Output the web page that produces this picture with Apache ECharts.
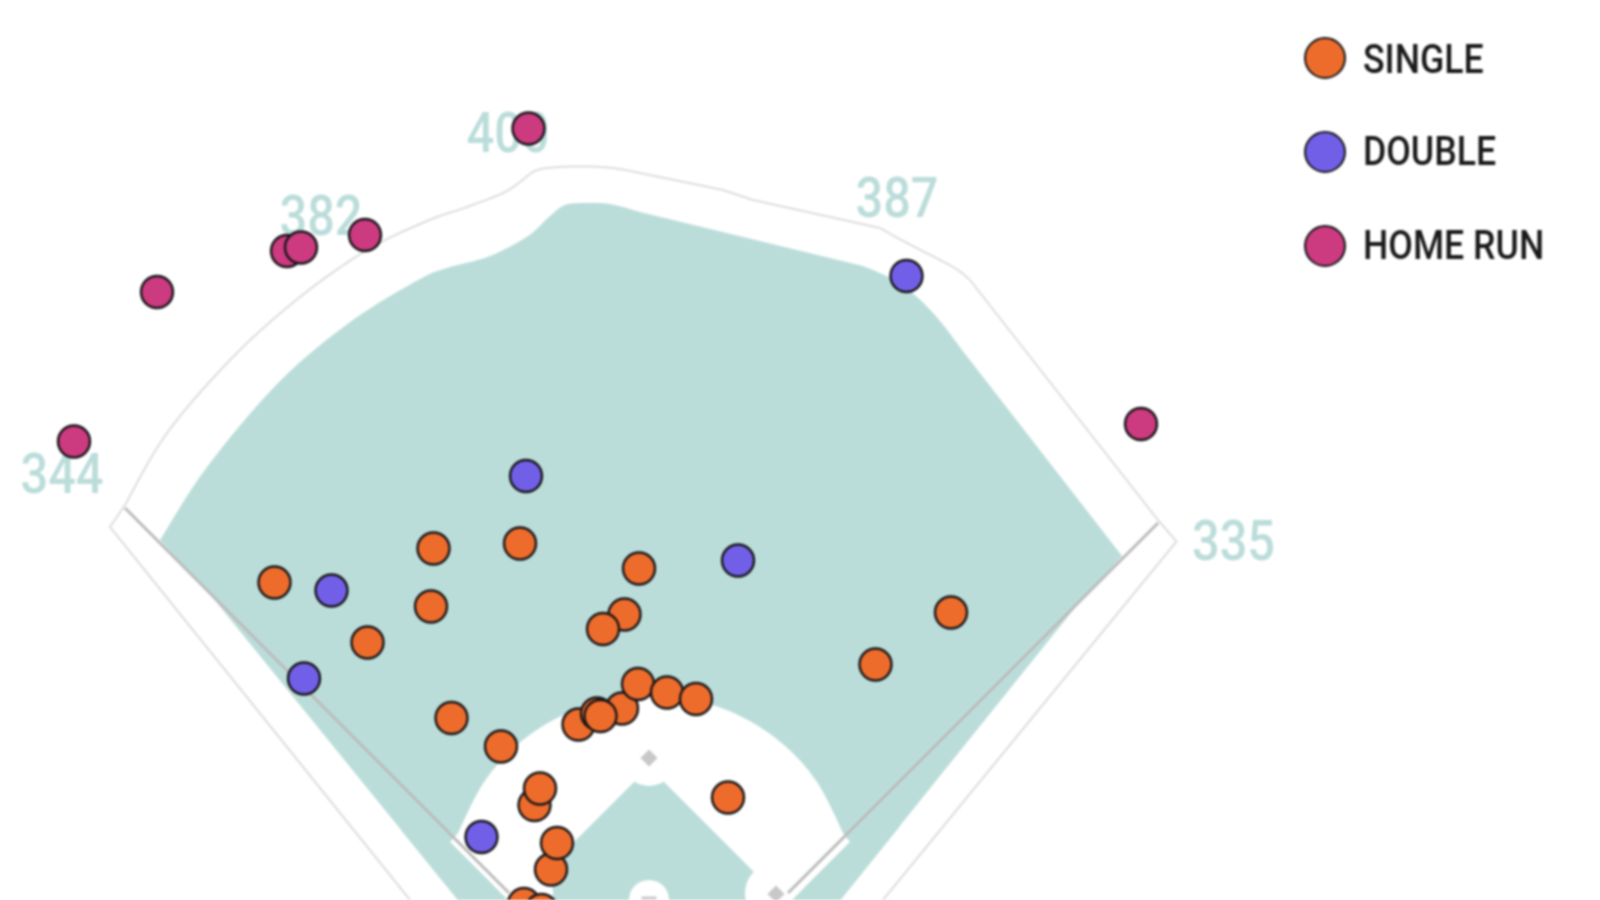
<!DOCTYPE html>
<html>
<head>
<meta charset="utf-8">
<style>html,body{margin:0;padding:0;background:#fff}#c{width:1600px;height:900px;overflow:hidden;filter:blur(0.8px)}</style>
<script src="https://cdn.jsdelivr.net/npm/echarts@6/dist/echarts.min.js"></script>
</head>
<body>
<div id="c"></div>
<script>
// Batted-ball locations, in field coordinates
const singles = [[274.5,582.5],[433.5,548.5],[520,543.5],[431,606.5],[367.5,642.5],[451.5,718],[501,746.5],
  [639,568.5],[624.5,614.5],[603,629],[951,612.5],[875.5,664.5],
  [551,869.5],[557,843],[534.5,805],[540,788.5],[728,797.5],
  [578.5,724.5],[622,708.5],[597,713.5],[600.5,716],[638,684],[667,692.5],[696,699],
  [524,904],[541.5,910]];
const doubles = [[526,476],[331.5,590.5],[304,678.5],[481.5,837],[738,560.5],[906.5,276]];
const homeRuns = [[528.5,128.5],[157,292],[287,251],[301,247.5],[365,235],[74,441.5],[1141,424]];

// Fence distance labels
const distanceLabels = ['344','382','400','387','335'];
const distancePositions = [[62,478.5],[321,221],[508,137.5],[897,203],[1233.5,546]];

// Legend
const legendLabels = ['SINGLE','DOUBLE','HOME RUN'];
const legendLabelPositions = [[1363,62.5],[1363,154.5],[1363,248.5]];

// Field outlines: curved runs are smoothed, straight runs are kept as they are
const grassArcLeft = [[160,540],[207,467],[280,381],[353,320],[420,279],[447,268],[490,256],[528,236],[550,216],[565,205],[585,203],[610,204],[640,212]];
const grassArcRight = [[863,266],[890,278],[917,297],[940,321],[962,350]];
const grassStraight = [[1122,556],[1078,604],[760,1000],[539,1000],[213,598]];
const dirtArc = [[458,833],[484,782],[520,742.5],[565,714],[615,698],[650.5,695],[686,698],[736,714],[781,742.5],[817,782],[843,833]];
const dirtStraight = [[850,842],[692,1000],[608,1000],[450,842]];
const infieldGrass = [[649,767],[882,1000],[416,1000]];
const rightBand = [[850,842],[692,1000],[760,1000],[900,826]];
const leftBand = [[450,842],[608,1000],[539,1000],[401,830]];
const leftFoulLine = [[125,508],[509,893]];
const rightFoulLine = [[1158,523],[788,893]];
const wallLeftStraight = [[410,900],[110,527],[125,505]];
const wallArc = [[125,505],[167,433],[233,357],[300,297],[367,250],[427,221],[467,207],[503,193],[520,182],[533,172],[547,168],[573,166.5],[600,167],[620,169],[640,173]];
const wallShoulder = [[880,228],[907,243],[953,267],[970,280]];
const wallRun = [[640,173],[723,190],[753,200],[880,228]];
const wallRightStraight = [[970,280],[1158,520],[1176.5,541.5],[883,900]];
const baseCutouts = [[649,758],[775,893],[523,893],[649,900]];
const cutoutSizes = [56,60,60,40];
const bases = [[649,758],[776,894]];
const rubber = [[649,898]];

const teal = '#BBDDDA', ink = '#161618', lineGrey = '#BCBCBC', wallGrey = '#DEDEDE';

function curve(points) {
  const out = [];
  for (let i = 0; i < points.length - 1; i++) {
    const a = points[Math.max(i - 1, 0)], b = points[i], c = points[i + 1], d = points[Math.min(i + 2, points.length - 1)];
    for (let k = 0; k < 8; k++) {
      const t = k / 8, t2 = t * t, t3 = t2 * t;
      out.push([0, 1].map(j => 0.5 * (2 * b[j] + (c[j] - a[j]) * t + (2 * a[j] - 5 * b[j] + 4 * c[j] - d[j]) * t2 + (3 * b[j] - a[j] - 3 * c[j] + d[j]) * t3)));
    }
  }
  out.push(points[points.length - 1]);
  return out;
}
function outline(points, closed, style, z) {
  return {
    type: 'custom', coordinateSystem: 'cartesian2d', data: points, silent: true, z: z, animation: false,
    encode: {x: 0, y: 1},
    renderItem(params, api) {
      if (params.dataIndex !== 0) return null;
      return {
        type: closed ? 'polygon' : 'polyline',
        shape: {points: points.map(p => api.coord(p))},
        style: style, silent: true
      };
    }
  };
}
function condensedText(texts, positions, o, z) {
  return {
    type: 'custom', coordinateSystem: 'cartesian2d', data: positions, silent: true, z: z, animation: false,
    encode: {x: 0, y: 1},
    renderItem(params, api) {
      const p = api.coord(positions[params.dataIndex]);
      return {
        type: 'text', x: p[0], y: p[1], scaleX: o.scaleX, silent: true,
        style: {text: texts[params.dataIndex], fontFamily: 'Roboto', fontWeight: o.weight, fontSize: o.size, fill: o.color, align: o.align, verticalAlign: 'middle'}
      };
    }
  };
}
function marks(name, data, color) {
  return {
    type: 'scatter', name: name, data: data, symbol: 'circle', symbolSize: 32, z: 5, clip: false,
    itemStyle: {color: color, borderColor: ink, borderWidth: 2.4, opacity: 1},
    animation: false, silent: true
  };
}

const chart = echarts.init(document.getElementById('c'), null, {renderer: 'canvas'});
chart.setOption({
  backgroundColor: '#fff',
  animation: false,
  grid: {left: 0, top: 0, right: 0, bottom: 0},
  xAxis: {type: 'value', min: 0, max: 1600, show: false},
  yAxis: {type: 'value', min: 0, max: 900, inverse: true, show: false},
  legend: {
    data: legendLabels, orient: 'vertical', left: 1304, top: 37, padding: 0,
    itemWidth: 40, itemHeight: 40, itemGap: 52, icon: 'circle', selectedMode: false,
    formatter: () => ' ', textStyle: {fontSize: 12}
  },
  series: [
    outline(curve(grassArcLeft).concat(curve(grassArcRight), grassStraight), true, {fill: teal}, 1),
    outline(curve(dirtArc).concat(dirtStraight), true, {fill: '#fff'}, 1),
    outline(infieldGrass, true, {fill: teal}, 1),
    outline(wallLeftStraight, false, {fill: 'none', stroke: wallGrey, lineWidth: 2}, 1),
    outline(curve(wallArc), false, {fill: 'none', stroke: wallGrey, lineWidth: 2}, 1),
    outline(wallRun, false, {fill: 'none', stroke: wallGrey, lineWidth: 2}, 1),
    outline(curve(wallShoulder), false, {fill: 'none', stroke: wallGrey, lineWidth: 2}, 1),
    outline(wallRightStraight, false, {fill: 'none', stroke: wallGrey, lineWidth: 2}, 1),
    {type: 'scatter', data: baseCutouts.map((p, i) => ({value: p, symbolSize: cutoutSizes[i]})), symbol: 'circle', clip: false,
     itemStyle: {color: '#fff', opacity: 1}, z: 2, silent: true, animation: false},
    outline(rightBand, true, {fill: teal}, 2.5),
    outline(leftBand, true, {fill: teal}, 2.5),
    outline(leftFoulLine, false, {fill: 'none', stroke: lineGrey, lineWidth: 3}, 3),
    outline(rightFoulLine, false, {fill: 'none', stroke: lineGrey, lineWidth: 3}, 3),
    {type: 'scatter', data: bases, symbol: 'diamond', symbolSize: 17, itemStyle: {color: '#C8C8C8', opacity: 1}, z: 3, silent: true, animation: false},
    {type: 'scatter', data: rubber, symbol: 'rect', symbolSize: [15,3], itemStyle: {color: '#C8C8C8', opacity: 1}, z: 3, silent: true, animation: false},
    condensedText(distanceLabels, distancePositions, {scaleX: 0.87, size: 56, weight: 500, color: teal, align: 'center'}, 4),
    condensedText(legendLabels, legendLabelPositions, {scaleX: 0.87, size: 41, weight: 500, color: '#1a1a1a', align: 'left'}, 4),
    marks('SINGLE', singles, '#EE6C2B'),
    marks('DOUBLE', doubles, '#725FE8'),
    marks('HOME RUN', homeRuns, '#CC3A80')
  ]
});
</script>
</body>
</html>
